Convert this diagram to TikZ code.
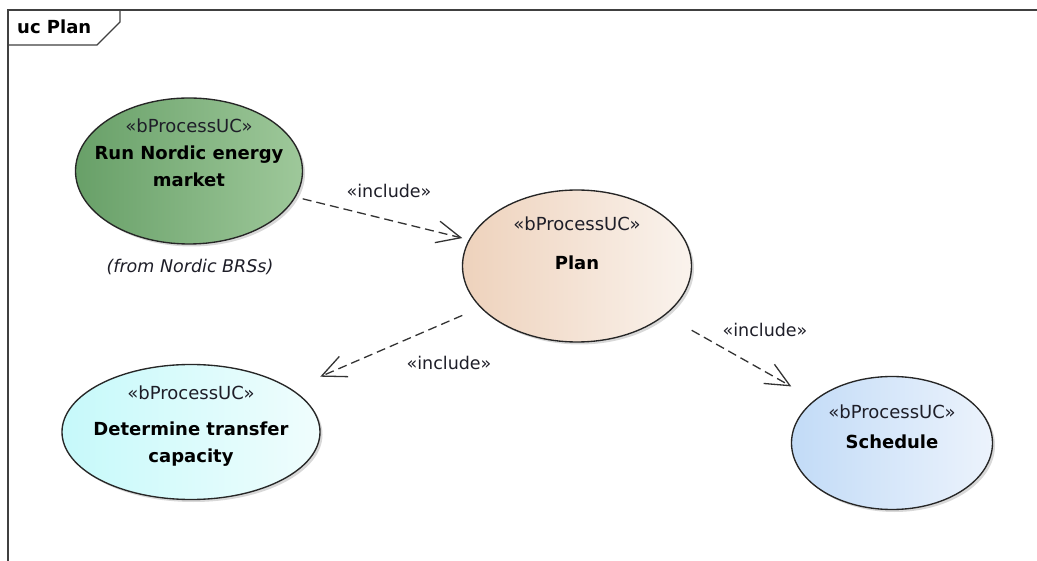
\documentclass[tikz,border=0pt]{standalone}
\usepackage{fontspec}
\setmainfont{DejaVu Sans}
\usetikzlibrary{shapes.geometric,arrows.meta,shadows}
\definecolor{framecol}{RGB}{64,64,64}
\definecolor{txtcol}{RGB}{30,30,40}
\definecolor{greenL}{RGB}{104,160,104}
\definecolor{greenR}{RGB}{158,200,154}
\definecolor{planL}{RGB}{238,210,188}
\definecolor{planR}{RGB}{250,243,237}
\definecolor{detL}{RGB}{198,249,250}
\definecolor{detR}{RGB}{240,253,253}
\definecolor{schL}{RGB}{194,219,247}
\definecolor{schR}{RGB}{236,243,252}
\tikzset{
  uc/.style={ellipse, draw=black!85, line width=1.35pt, inner sep=0pt,
    shading angle=90,
    drop shadow={shadow xshift=2.5pt, shadow yshift=-2.5pt, opacity=0.25, fill=black!60}},
  ucbox/.style={rectangle, inner sep=0pt, draw=none},
  stereo/.style={font=\fontsize{18}{20}\selectfont, text=txtcol, anchor=base, inner sep=0pt},
  ucname/.style={font=\fontsize{18}{27}\selectfont\bfseries, text=black, anchor=base, inner sep=0pt, align=center},
  inclabel/.style={font=\fontsize{17.5}{20}\selectfont, text=txtcol, anchor=base, inner sep=0pt},
  incl/.style={draw=black!80, line width=1.3pt, dash pattern=on 9pt off 5pt,
    -{Straight Barb[length=24pt, width=22pt, line width=1.3pt]}}
}
\begin{document}
\begin{tikzpicture}[x=1pt,y=-1pt]
\useasboundingbox (0,0) rectangle (1037,561);
\fill[white] (0,0) rectangle (1037,561);
% frame
\draw[framecol, line width=1.4pt] (8,561) -- (8,10) -- (1037,10);
\draw[framecol, line width=1.3pt] (8,45) -- (97,45) -- (120,22) -- (120,10);
\node[font=\fontsize{18}{20}\selectfont\bfseries, anchor=base west, inner sep=0pt] (title) at (17,34) {uc Plan};
% use cases
\node[uc, left color=greenL, right color=greenR, minimum width=227pt, minimum height=146pt] (runE) at (189,171) {};
\node[ucbox, minimum width=227pt, minimum height=146pt] (run) at (189,171) {};
\node[stereo] (runS) at (189,133) {«bProcessUC»};
\node[ucname] (runT) at (189,187) {Run Nordic energy\\market};
\node[font=\fontsize{17.5}{20}\selectfont\itshape, text=txtcol, anchor=base, inner sep=0pt] (runF) at (190,273) {(from Nordic BRSs)};

\node[uc, left color=planL, right color=planR, minimum width=229pt, minimum height=152pt] (planE) at (577,266) {};
\node[ucbox, minimum width=229pt, minimum height=152pt] (plan) at (577,266) {};
\node[stereo] (planS) at (577,231) {«bProcessUC»};
\node[ucname] (planT) at (577,270) {Plan};

\node[uc, left color=detL, right color=detR, minimum width=258pt, minimum height=135pt] (detE) at (191,432) {};
\node[ucbox, minimum width=258pt, minimum height=135pt] (det) at (191,432) {};
\node[stereo] (detS) at (191,400) {«bProcessUC»};
\node[ucname] (detT) at (191,462) {Determine transfer\\capacity};

\node[uc, left color=schL, right color=schR, minimum width=201pt, minimum height=133pt] (schE) at (892,443) {};
\node[ucbox, minimum width=201pt, minimum height=133pt] (sch) at (892,443) {};
\node[stereo] (schS) at (892,419) {«bProcessUC»};
\node[ucname] (schT) at (892,449) {Schedule};
% include relations
\draw[incl] (run) -- (plan);
\draw[incl] (plan) -- (det);
\draw[incl] (plan) -- (sch);
\node[inclabel] (inc1) at (389,198) {«include»};
\node[inclabel] (inc2) at (449,370) {«include»};
\node[inclabel] (inc3) at (765,337) {«include»};
\end{tikzpicture}
\end{document}
